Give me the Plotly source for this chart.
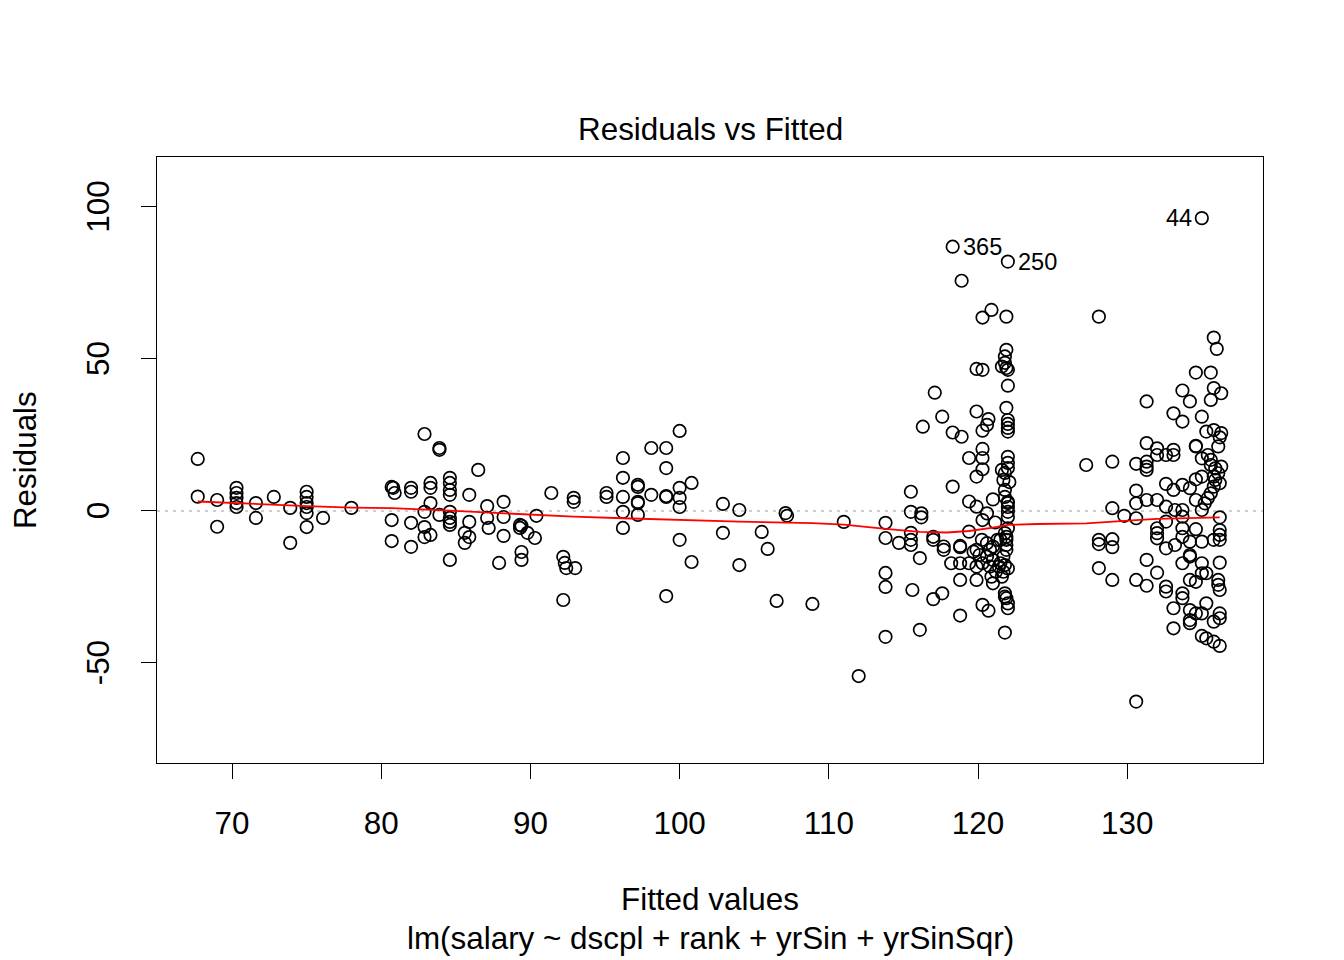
import plotly.graph_objects as go

# ---- data ----
fitted_low = [67.7, 67.7, 69.0, 69.0, 70.3, 70.3, 70.3, 70.3, 70.3, 71.6, 71.6, 72.8, 73.9, 73.9,
              75.0, 75.0, 75.0, 75.0, 75.0, 75.0, 76.1, 78.0,
              80.7, 80.8, 80.9, 80.7, 80.7, 82.0, 82.0, 82.0, 82.0, 82.9, 83.9, 83.9, 83.3, 83.3, 83.3, 83.3,
              82.9, 82.9, 82.9, 83.9, 84.6, 84.6, 84.6, 84.6, 84.6, 84.6, 84.6, 84.6, 84.6,
              86.5, 85.9, 85.9, 85.9, 85.6, 85.6, 87.1, 87.1, 87.2, 88.2, 88.2, 88.2, 87.9, 89.3, 89.3, 89.4,
              89.4, 89.4, 89.8, 90.3, 90.4, 91.4, 92.2, 92.3, 92.4, 93.0, 92.2, 92.9, 92.9]
resid_low = [17.1, 4.7, 3.6, -5.2, 7.6, 5.9, 4.3, 2.6, 1.3, 2.6, -2.3, 4.6, 1.0, -10.5,
             6.3, 4.6, 2.6, 1.3, -0.7, -5.3, -2.3, 1.0,
             7.9, 7.6, 5.9, -3.0, -9.9, 7.6, 6.3, -3.9, -11.8, 25.3, 20.7, 20.1, 9.2, 7.6, 2.6, -7.9,
             -0.3, -5.3, -8.6, -1.3, 10.9, 9.2, 6.9, 5.3, -0.3, -2.3, -3.6, -4.6, -16.1,
             13.5, 5.3, -3.6, -8.6, -7.2, -10.5, 1.6, -2.3, -5.6, 3.0, -2.0, -8.2, -17.1, -4.6, -5.6, -4.9,
             -13.5, -16.1, -7.2, -8.9, -1.6, 5.9, -15.1, -17.1, -18.8, -18.8, -29.3, 4.3, 3.0]

fitted_mid = [95.1, 95.1, 96.2, 96.2, 96.2, 96.2, 96.2, 97.2, 97.2, 97.2, 97.2, 97.2, 98.1, 98.1,
              99.1, 99.1, 99.1, 99.1, 99.1, 100.0, 100.0, 100.0, 100.0, 100.0, 100.8, 100.8,
              102.9, 102.9, 104.0, 104.0, 105.5, 105.9, 106.5, 107.1, 107.2, 108.9, 111.0, 112.0]
resid_mid = [5.9, 4.6, 17.4, 10.9, 4.6, -0.3, -5.6, 8.6, 7.9, 3.0, 2.6, -1.3, 20.7, 5.3,
             20.7, 14.1, 4.9, 4.6, -28.0, 26.3, 7.6, 4.3, 1.3, -9.5, 9.2, -16.8,
             2.3, -7.2, 0.3, -17.8, -6.9, -12.5, -29.6, -0.7, -1.6, -30.6, -3.6, -54.3]

fitted_assoc = [113.8, 113.8, 113.8, 113.8, 113.8, 114.7, 115.5, 115.5, 115.5, 115.5, 115.5, 115.6,
                116.1, 116.1, 117.1, 116.2, 116.2, 116.3, 117.6, 118.3, 118.9, 118.3, 117.0, 117.0,
                117.7, 117.7, 118.8, 118.8, 119.4, 118.2, 118.8, 119.4, 119.9, 118.8, 119.9, 117.6,
                117.0, 118.8,
                118.3, 122.0, 118.9, 120.9, 120.3, 121.9, 121.9, 121.8, 121.8, 121.6, 122.0, 121.9,
                119.9, 120.3, 122.0, 119.9, 120.7, 120.6, 120.3, 121.9, 122.0, 122.0, 122.0, 122.0,
                120.3, 119.4, 120.3, 122.0, 120.3, 119.9, 122.0, 122.0, 121.6, 121.8, 121.7, 122.1,
                121.8, 121.8, 122.0, 122.0, 122.0, 122.0, 122.0, 121.0, 120.6, 120.3, 121.15, 119.4,
                119.9,
                120.26, 120.6, 120.8, 121.0, 121.3, 120.6, 121.0, 121.5, 121.9, 121.9, 121.9, 121.8,
                122.0, 121.7, 120.1, 120.3, 120.8, 121.2, 121.4, 121.7, 121.9, 122.0, 121.8, 121.5,
                120.9, 121.0, 121.6, 121.8, 121.9, 122.0, 122.0, 121.8, 120.3, 120.7, 121.8, 119.9,
                119.7]
resid_assoc = [-3.9, -8.9, -20.4, -25.0, -41.4, -10.5, 6.3, -0.3, -7.2, -9.5, -11.2, -26.0,
               -15.5, -39.1, 38.9, -0.8, -2.1, 27.7, 31.0, 25.8, 24.4, 8.0, -8.5, -9.5,
               -11.7, -12.8, -11.5, -11.9, -6.8, -17.2, -17.2, -17.2, -18.3, -22.7, -22.7, -27.1,
               -29.0, -34.4,
               86.9, 82.0, 75.7, 66.1, 63.6, 63.9, 53.0, 50.8, 48.7, 47.5, 46.4, 47.0,
               46.7, 46.4, 41.2, 32.7, 30.2, 28.3, 26.4, 33.9, 29.9, 28.6, 27.3, 26.1,
               20.4, 17.4, 17.4, 17.8, 13.7, 11.3, 15.8, 14.1, 13.5, 12.5, 10.2, 9.5,
               6.9, 4.6, 3.0, 2.6, 1.3, -0.3, -2.0, 3.8, -0.8, -3.0, -3.8, 3.1,
               1.4,
               -9.5, -10.6, -12.8, -11.7, -9.5, -15.0, -16.1, -17.2, -12.8, -9.5, -8.5, -17.8,
               -18.9, -20.0, -14.5, -17.2, -18.3, -20.0, -18.3, -15.0, -11.2, -5.7, -7.3, -9.5,
               -21.6, -23.8, -21.6, -27.1, -28.7, -30.4, -32.0, -28.2, -30.9, -32.8, -40.0, -12.8,
               -13.4]

fitted_full = [127.25, 128.1, 129.0, 130.6, 131.3, 131.3, 131.3, 131.3, 132.0, 132.0, 132.6, 133.1,
               134.6, 136.1, 131.3, 133.7, 134.2, 135.8, 136.3, 135.6, 133.1, 133.7, 135.0, 135.3,
               135.8, 136.3, 136.2, 133.1, 134.6, 135.8, 136.0, 134.6, 135.6, 135.0,
               135.0, 135.4, 135.6, 135.6, 135.9, 136.3, 136.1, 135.8, 135.9, 136.2, 135.8, 135.6,
               135.4, 135.2, 132.6, 133.1, 133.7, 134.2, 134.6, 135.0, 130.6, 130.6, 130.6, 131.3,
               132.0, 129.0, 129.8, 132.6, 133.2, 133.7, 133.7, 134.6, 135.0, 136.2, 132.6, 132.0,
               132.0, 132.0, 132.6, 133.2, 133.7, 133.7, 134.2, 134.6, 135.0, 135.8, 136.2, 136.2,
               136.2, 128.1, 128.1, 129.0, 129.0, 134.2, 134.2, 133.7, 135.0, 136.2, 131.3, 132.0,
               128.1, 129.0, 130.6, 131.3, 132.6, 132.6, 133.7, 133.7, 134.2, 134.6, 135.0, 135.3,
               136.1, 136.1, 136.2, 133.1, 134.2, 134.2, 134.2, 134.6, 135.0, 135.3, 135.8, 136.2,
               136.2, 133.1, 135.0, 135.3, 135.8, 136.2, 130.6]
resid_full = [15.1, 63.9, 16.2, 15.5, 16.2, 14.6, 13.5, 22.3, 20.6, 18.4, 18.4, 18.4,
              21.2, 21.2, 36.0, 39.6, 36.0, 40.4, 38.7, 36.5, 32.1, 29.4, 31.0, 26.1,
              26.6, 25.6, 24.2, 20.1, 21.4, 57.0, 53.3, 45.5, 45.5, 96.3,
              17.3, 18.4, 16.8, 15.1, 14.0, 14.6, 12.4, 11.3, 10.2, 9.1, 8.0, 5.8,
              4.2, 2.5, 8.9, 6.9, 8.6, 7.5, 10.4, 11.3, 6.7, 2.5, -2.4, 3.6,
              3.6, 0.9, -1.6, 1.4, 0.3, 0.3, -1.9, 3.6, 0.3, -2.1, -3.5, -5.7,
              -7.3, -9.0, -12.3, -11.2, -5.7, -8.5, -10.1, -6.0, -10.1, -9.5, -6.3, -7.9,
              -9.5, -9.5, -10.9, -9.3, -11.9, -14.5, -15.0, -17.2, -17.2, -17.0, -16.1, -20.3,
              -18.8, -22.7, -22.7, -24.6, -24.9, -26.5, -27.1, -28.7, -22.7, -23.3, -20.5, -20.5,
              -22.7, -24.3, -26.0, -32.0, -32.6, -35.9, -36.9, -33.7, -33.7, -30.4, -36.4, -33.7,
              -35.3, -38.6, -41.1, -41.9, -43.0, -44.4, -62.7]

fitted = fitted_low + fitted_mid + fitted_assoc + fitted_full
residuals = resid_low + resid_mid + resid_assoc + resid_full

smooth_x = [67.7, 70.3, 75.0, 78.0, 80.7, 84.6, 88.2, 92.9, 96.2, 100.0, 104.0, 108.9, 111.0,
            113.8, 116.1, 117.9, 119.4, 120.9, 122.0, 124.0, 127.25, 130.6, 132.0, 136.2]
smooth_y = [3.1, 2.5, 1.6, 1.1, 0.9, 0.1, -0.8, -1.9, -2.4, -3.0, -3.5, -4.0, -4.5,
            -5.9, -6.9, -7.1, -6.6, -5.6, -4.6, -4.3, -4.1, -3.0, -2.6, -2.1]

outlier_ids = ["365", "250", "44"]
outlier_x = [118.3, 122.0, 135.0]
outlier_y = [86.9, 82.0, 96.3]
outlier_side = ["left", "left", "right"]

x_ticks = [70, 80, 90, 100, 110, 120, 130]
y_ticks = [-50, 0, 50, 100]

FONT = "Liberation Sans, Arial, sans-serif"
FS = 31.4

fig = go.Figure()
fig.add_trace(go.Scatter(
    x=fitted, y=residuals, mode="markers",
    marker=dict(symbol="circle-open", size=12.5, color="black", line=dict(width=1.7, color="black")),
    hoverinfo="x+y", showlegend=False))
fig.add_trace(go.Scatter(
    x=smooth_x, y=smooth_y, mode="lines",
    line=dict(color="red", width=1.8), showlegend=False))

fig.add_shape(type="line", xref="paper", yref="y", x0=0, x1=1, y0=0, y1=0,
              line=dict(color="#BEBEBE", width=1.5, dash="3px,5px"), layer="below")

for lab, xx, yy, side in zip(outlier_ids, outlier_x, outlier_y, outlier_side):
    fig.add_annotation(x=xx, y=yy, text=lab, showarrow=False,
                       xanchor=side, yanchor="middle",
                       xshift=8 if side == "left" else -8,
                       font=dict(family=FONT, size=FS * 0.75, color="black"))

fig.add_annotation(xref="paper", yref="paper", x=0.5, y=1.0446, text="Residuals vs Fitted",
                   showarrow=False, xanchor="center", yanchor="middle",
                   font=dict(family=FONT, size=FS, color="black"))
fig.add_annotation(xref="paper", yref="paper", x=0.5, y=-0.226, text="Fitted values",
                   showarrow=False, xanchor="center", yanchor="middle",
                   font=dict(family=FONT, size=FS, color="black"))
fig.add_annotation(xref="paper", yref="paper", x=0.5, y=-0.2888,
                   text="lm(salary ~ dscpl + rank + yrSin + yrSinSqr)",
                   showarrow=False, xanchor="center", yanchor="middle",
                   font=dict(family=FONT, size=FS, color="black"))
fig.add_annotation(xref="paper", yref="paper", x=-0.1193, y=0.5, text="Residuals",
                   showarrow=False, xanchor="center", yanchor="middle", textangle=-90,
                   font=dict(family=FONT, size=FS, color="black"))

fig.update_xaxes(range=[64.97, 139.1], tickvals=x_ticks, ticktext=[str(v) for v in x_ticks],
                 showgrid=False, zeroline=False, showline=True, mirror=True,
                 linecolor="black", linewidth=1.2, ticks="outside", ticklen=15,
                 tickwidth=1.2, tickcolor="black", ticklabelstandoff=17,
                 tickfont=dict(family=FONT, size=FS, color="black"))
# trailing no-break space nudges the rotated labels to sit centred on their ticks like R
fig.update_yaxes(range=[-82.9, 116.4], tickvals=y_ticks,
                 ticktext=[str(v) + "\u00a0" for v in y_ticks],
                 showgrid=False, zeroline=False, showline=True, mirror=True,
                 linecolor="black", linewidth=1.2, ticks="outside", ticklen=15,
                 tickwidth=1.2, tickcolor="black", tickangle=-90, ticklabelstandoff=19,
                 tickfont=dict(family=FONT, size=FS, color="black"))

# the page body has an 8px margin, so the figure is 8px smaller and shifted
fig.update_layout(width=1336, height=952, margin=dict(l=149, r=81, t=149, b=197),
                  paper_bgcolor="white", plot_bgcolor="white",
                  font=dict(family=FONT, color="black"))

fig.write_html("out.html")
